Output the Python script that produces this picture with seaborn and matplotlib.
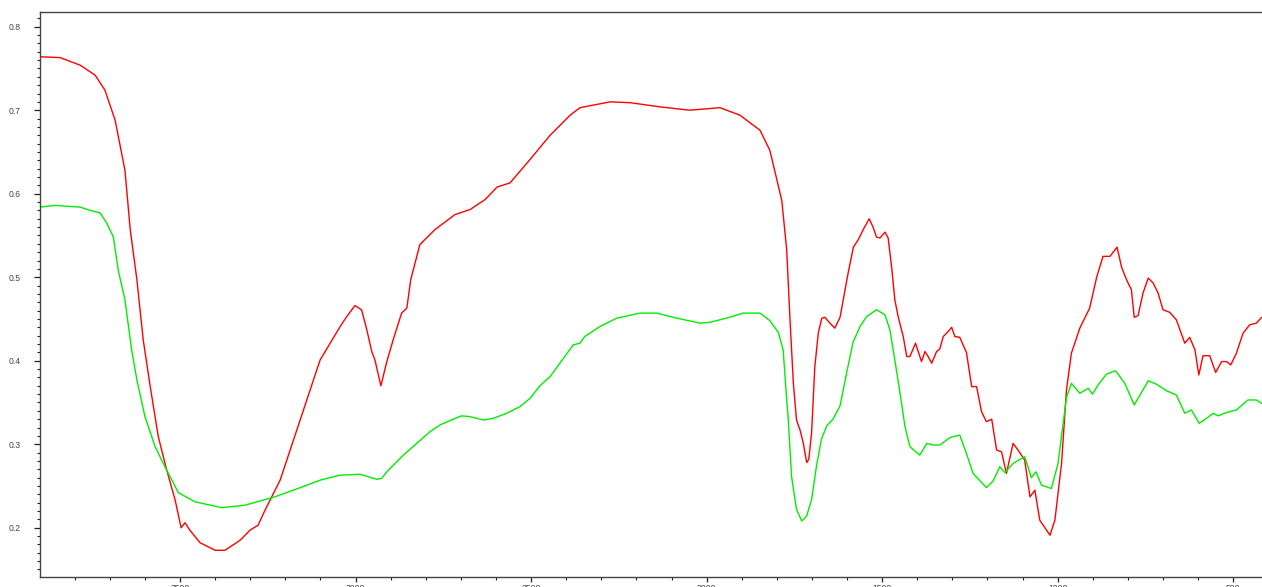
import matplotlib
matplotlib.use("Agg")
import matplotlib.pyplot as plt
from matplotlib.ticker import MultipleLocator
import seaborn as sns
import pandas as pd

# Red spectrum (wavenumber, absorbance)
red_x = [3899, 3842, 3785, 3742, 3714, 3685, 3657, 3642, 3623, 3605, 3585, 3562, 3538, 3514,
         3497, 3486, 3472, 3443, 3400, 3372, 3329, 3301, 3278, 3258, 3215, 3158, 3101, 3044,
         3025, 3002, 2983, 2968, 2954, 2945, 2928, 2911, 2893, 2869, 2854, 2843, 2817, 2774,
         2717, 2674, 2631, 2597, 2560, 2503, 2446, 2389, 2361, 2275, 2218, 2133, 2048, 1962,
         1905, 1848, 1820, 1786, 1772, 1763, 1753, 1744, 1734, 1725, 1715, 1709, 1701, 1692,
         1682, 1672, 1663, 1651, 1635, 1620, 1611, 1597, 1582, 1568, 1554, 1537, 1526, 1516,
         1506, 1492, 1483, 1473, 1464, 1454, 1440, 1430, 1421, 1405, 1388, 1378, 1369, 1359,
         1345, 1336, 1326, 1312, 1302, 1293, 1279, 1260, 1245, 1231, 1217, 1203, 1188, 1174,
         1160, 1146, 1127, 1113, 1094, 1079, 1065, 1051, 1022, 1008, 989, 975, 961, 937, 909,
         889, 871, 851, 831, 818, 804, 790, 782, 771, 757, 742, 728, 714, 700, 681, 662, 638,
         624, 609, 598, 586, 567, 550, 533, 519, 507, 491, 472, 453, 434, 419]
red_y = [0.764, 0.763, 0.754, 0.742, 0.724, 0.688, 0.628, 0.557, 0.497, 0.425, 0.369, 0.309,
         0.269, 0.233, 0.200, 0.206, 0.197, 0.182, 0.173, 0.173, 0.185, 0.197, 0.203, 0.221,
         0.257, 0.329, 0.401, 0.441, 0.453, 0.466, 0.461, 0.437, 0.411, 0.401, 0.370, 0.399,
         0.425, 0.457, 0.463, 0.497, 0.539, 0.557, 0.575, 0.581, 0.593, 0.608, 0.613, 0.641,
         0.670, 0.694, 0.703, 0.710, 0.709, 0.704, 0.700, 0.703, 0.694, 0.676, 0.652, 0.592,
         0.533, 0.453, 0.373, 0.329, 0.317, 0.302, 0.278, 0.282, 0.314, 0.392, 0.433, 0.451,
         0.452, 0.446, 0.439, 0.452, 0.473, 0.505, 0.536, 0.545, 0.557, 0.570, 0.560, 0.548,
         0.547, 0.554, 0.547, 0.512, 0.473, 0.452, 0.429, 0.405, 0.405, 0.421, 0.399, 0.411,
         0.405, 0.397, 0.411, 0.414, 0.429, 0.435, 0.440, 0.429, 0.428, 0.410, 0.369, 0.369,
         0.339, 0.327, 0.330, 0.293, 0.291, 0.265, 0.301, 0.293, 0.281, 0.237, 0.245, 0.209,
         0.191, 0.209, 0.277, 0.365, 0.409, 0.439, 0.463, 0.500, 0.525, 0.525, 0.536, 0.512,
         0.497, 0.485, 0.452, 0.454, 0.481, 0.499, 0.493, 0.481, 0.461, 0.458, 0.449, 0.421,
         0.428, 0.413, 0.383, 0.406, 0.406, 0.386, 0.399, 0.399, 0.395, 0.409, 0.433, 0.443,
         0.445, 0.452]

# Green spectrum (wavenumber, absorbance)
green_x = [3899, 3856, 3823, 3785, 3756, 3728, 3709, 3690, 3676, 3657, 3638, 3623, 3600, 3571,
           3543, 3505, 3457, 3381, 3315, 3230, 3158, 3101, 3044, 2987, 2940, 2926, 2911, 2864,
           2826, 2788, 2760, 2722, 2698, 2674, 2636, 2608, 2570, 2532, 2503, 2475, 2446, 2380,
           2361, 2347, 2304, 2256, 2190, 2142, 2085, 2019, 1991, 1943, 1896, 1848, 1820, 1796,
           1782, 1772, 1768, 1758, 1744, 1729, 1715, 1701, 1687, 1673, 1658, 1640, 1620, 1601,
           1583, 1563, 1544, 1516, 1492, 1478, 1464, 1449, 1435, 1421, 1393, 1373, 1355, 1336,
           1307, 1279, 1260, 1241, 1203, 1184, 1165, 1150, 1127, 1094, 1075, 1062, 1046, 1018,
           999, 975, 961, 937, 913, 901, 885, 861, 835, 809, 782, 742, 719, 690, 662, 638, 619,
           597, 576, 557, 543, 519, 491, 458, 434, 419]
green_y = [0.584, 0.586, 0.585, 0.584, 0.580, 0.577, 0.565, 0.548, 0.508, 0.473, 0.413, 0.377,
           0.333, 0.297, 0.273, 0.242, 0.231, 0.224, 0.227, 0.237, 0.248, 0.257, 0.263, 0.264,
           0.258, 0.259, 0.267, 0.287, 0.301, 0.315, 0.323, 0.330, 0.334, 0.333, 0.329, 0.331,
           0.337, 0.345, 0.355, 0.370, 0.381, 0.419, 0.421, 0.429, 0.441, 0.451, 0.457, 0.457,
           0.451, 0.445, 0.446, 0.451, 0.457, 0.457, 0.448, 0.434, 0.413, 0.353, 0.333, 0.261,
           0.222, 0.208, 0.214, 0.234, 0.274, 0.306, 0.322, 0.330, 0.346, 0.386, 0.422, 0.441,
           0.453, 0.461, 0.455, 0.437, 0.401, 0.361, 0.321, 0.297, 0.287, 0.301, 0.299, 0.299,
           0.308, 0.311, 0.289, 0.265, 0.248, 0.256, 0.273, 0.266, 0.277, 0.285, 0.260, 0.267,
           0.251, 0.247, 0.277, 0.356, 0.373, 0.361, 0.367, 0.360, 0.371, 0.384, 0.388, 0.373,
           0.347, 0.376, 0.372, 0.364, 0.359, 0.337, 0.341, 0.325, 0.331, 0.337, 0.334, 0.338,
           0.341, 0.353, 0.353, 0.349]

x_major = [3500, 3000, 2500, 2000, 1500, 1000, 500]
y_major = [0.2, 0.3, 0.4, 0.5, 0.6, 0.7, 0.8]

df_red = pd.DataFrame({"wavenumber": red_x, "absorbance": red_y})
df_green = pd.DataFrame({"wavenumber": green_x, "absorbance": green_y})

sns.set_style("ticks")
plt.rcParams["font.family"] = ["Liberation Sans", "DejaVu Sans"]

fig = plt.figure(figsize=(12.62, 5.87), dpi=100)
ax = fig.add_axes([40 / 1262, 10 / 587, 1222 / 1262, 565 / 587])

sns.lineplot(data=df_red, x="wavenumber", y="absorbance", color="#ff0000",
             linewidth=1.0, estimator=None, sort=False, ax=ax)
sns.lineplot(data=df_green, x="wavenumber", y="absorbance", color="#00ee00",
             linewidth=1.0, estimator=None, sort=False, ax=ax)

ax.set_xlim(3899, 418)
ax.set_ylim(0.141, 0.8176)
ax.set_xticks(x_major)
ax.set_yticks(y_major)
ax.set_xticklabels([str(v) for v in x_major])
ax.set_yticklabels([f"{v:.1f}" for v in y_major])
ax.xaxis.set_minor_locator(MultipleLocator(100))
ax.yaxis.set_minor_locator(MultipleLocator(0.01))
ax.set_xlabel("")
ax.set_ylabel("")

for s in ["left", "top", "bottom"]:
    ax.spines[s].set_visible(True)
    ax.spines[s].set_color("#444444")
    ax.spines[s].set_linewidth(1.0)
ax.spines["right"].set_visible(False)

ax.tick_params(axis="y", which="major", length=4, width=0.9, color="#222222",
               labelsize=6.2, labelcolor="#444444", pad=10)
ax.tick_params(axis="y", which="minor", length=2.5, width=0.8, color="#222222")
ax.tick_params(axis="x", which="major", length=3.5, width=0.9, color="#222222",
               labelsize=6.2, labelcolor="#444444", pad=1.5)
ax.tick_params(axis="x", which="minor", length=2.5, width=0.8, color="#222222")

fig.savefig("out.png", dpi=100)
